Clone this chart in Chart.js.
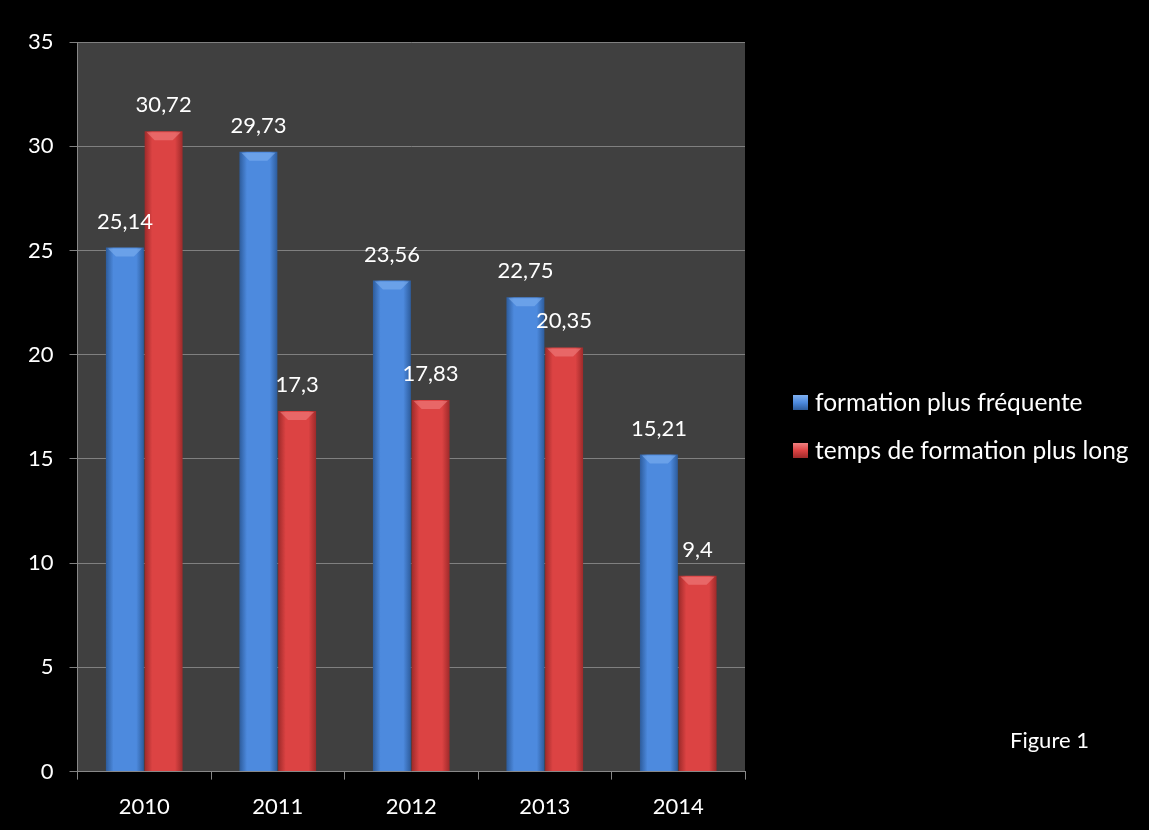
<!DOCTYPE html>
<html>
<head>
<meta charset="utf-8">
<script src="https://cdn.jsdelivr.net/npm/chart.js@4/dist/chart.umd.min.js"></script>
<style>
  html, body { margin: 0; padding: 0; background: #000; }
  #wrap { width: 1149px; height: 830px; }
</style>
</head>
<body>
<div id="wrap"><canvas id="figChart"></canvas></div>
<script>
var years = ["2010", "2011", "2012", "2013", "2014"];
var frequente = [25.14, 29.73, 23.56, 22.75, 15.21];
var plusLong = [30.72, 17.3, 17.83, 20.35, 9.4];
var serieNames = ["formation plus fréquente", "temps de formation plus long"];
var yTicks = [0, 5, 10, 15, 20, 25, 30, 35];

var FONT = "Lato, 'Open Sans', sans-serif";
var SHADES = [
  { edge: '#2d5c9c', mid: '#4d8ade', top: '#7fb0f0' },
  { edge: '#9e2a2a', mid: '#dc4343', top: '#f08080' }
];

// fond gris de la zone de tracé
var plotBg = {
  id: 'plotBg',
  beforeDraw: function(chart) {
    var a = chart.chartArea, ctx = chart.ctx;
    ctx.save();
    ctx.fillStyle = '#404040';
    ctx.fillRect(a.left, a.top, a.right - a.left, a.bottom - a.top);
    ctx.restore();
  }
};

// dégradé horizontal sur chaque barre
var barShade = {
  id: 'barShade',
  beforeDatasetsDraw: function(chart) {
    var ctx = chart.ctx;
    chart.data.datasets.forEach(function(ds, i) {
      chart.getDatasetMeta(i).data.forEach(function(bar) {
        var x0 = bar.x - bar.width / 2, x1 = bar.x + bar.width / 2;
        var g = ctx.createLinearGradient(x0, 0, x1, 0);
        g.addColorStop(0, SHADES[i].edge);
        g.addColorStop(0.2, SHADES[i].mid);
        g.addColorStop(0.8, SHADES[i].mid);
        g.addColorStop(1, SHADES[i].edge);
        bar.options.backgroundColor = g;
      });
    });
  },
  afterDatasetsDraw: function(chart) {
    // petit biseau clair en haut des barres
    var ctx = chart.ctx;
    ctx.save();
    chart.data.datasets.forEach(function(ds, i) {
      chart.getDatasetMeta(i).data.forEach(function(bar) {
        var x0 = bar.x - bar.width / 2 + 2, x1 = bar.x + bar.width / 2 - 2;
        var h = Math.min(9, bar.base - bar.y);
        ctx.fillStyle = SHADES[i].top;
        ctx.globalAlpha = 0.6;
        ctx.beginPath();
        ctx.moveTo(x0, bar.y + 1);
        ctx.lineTo(x1, bar.y + 1);
        ctx.lineTo(x1 - 8, bar.y + h);
        ctx.lineTo(x0 + 8, bar.y + h);
        ctx.closePath();
        ctx.fill();
      });
    });
    ctx.restore();
  }
};

// étiquettes de valeurs, légende à droite et "Figure 1"
var valueLabels = {
  id: 'valueLabels',
  afterDatasetsDraw: function(chart) {
    var ctx = chart.ctx;
    ctx.save();
    ctx.fillStyle = '#ffffff';
    ctx.font = '22px ' + FONT;
    ctx.textAlign = 'center';
    ctx.textBaseline = 'middle';
    chart.data.datasets.forEach(function(ds, i) {
      chart.getDatasetMeta(i).data.forEach(function(bar, j) {
        var txt = String(ds.data[j]).replace('.', ',');
        ctx.fillText(txt, bar.x, bar.y - 26);
      });
    });

    ctx.textAlign = 'left';
    ctx.fillText('Figure 1', 1010, 741);

    // légende
    var lx = chart.chartArea.right + 48;
    var ly = 402;
    ctx.font = '24.5px ' + FONT;
    chart.data.datasets.forEach(function(ds, i) {
      var y = ly + i * 48;
      var g = ctx.createLinearGradient(0, y - 7, 0, y + 8);
      g.addColorStop(0, SHADES[i].top);
      g.addColorStop(0.5, SHADES[i].mid);
      g.addColorStop(1, SHADES[i].edge);
      ctx.fillStyle = g;
      ctx.fillRect(lx, y - 7, 15, 15);
      ctx.fillStyle = '#ffffff';
      ctx.fillText(ds.label, lx + 22, y + 1);
    });
    ctx.restore();
  }
};

var ctx = document.getElementById("figChart").getContext("2d");
var figChart = new Chart(ctx, {
  type: 'bar',
  data: {
    labels: years,
    datasets: [{
      label: serieNames[0],
      data: frequente,
      backgroundColor: function() { return '#4d8ade'; }
    }, {
      label: serieNames[1],
      data: plusLong,
      backgroundColor: function() { return '#dc4343'; }
    }]
  },
  options: {
    responsive: true,
    maintainAspectRatio: false,
    animation: false,
    layout: { padding: { left: 12, top: 42, right: 404, bottom: -4 } },
    datasets: { bar: { categoryPercentage: 0.58, barPercentage: 0.98 } },
    scales: {
      x: {
        grid: { display: true, drawOnChartArea: false, offset: true, color: '#888', tickLength: 8 },
        border: { color: '#888' },
        ticks: { color: '#fff', font: { family: FONT, size: 22 }, padding: 14 }
      },
      y: {
        min: 0, max: 35,
        afterBuildTicks: function(axis) { axis.ticks = yTicks.map(function(v) { return { value: v }; }); },
        grid: { color: '#808080', tickLength: 8 },
        border: { color: '#888' },
        ticks: { color: '#fff', font: { family: FONT, size: 22 }, padding: 16 }
      }
    },
    plugins: {
      legend: { display: false },
      tooltip: { enabled: false }
    }
  },
  plugins: [plotBg, barShade, valueLabels]
});
</script>
</body>
</html>
